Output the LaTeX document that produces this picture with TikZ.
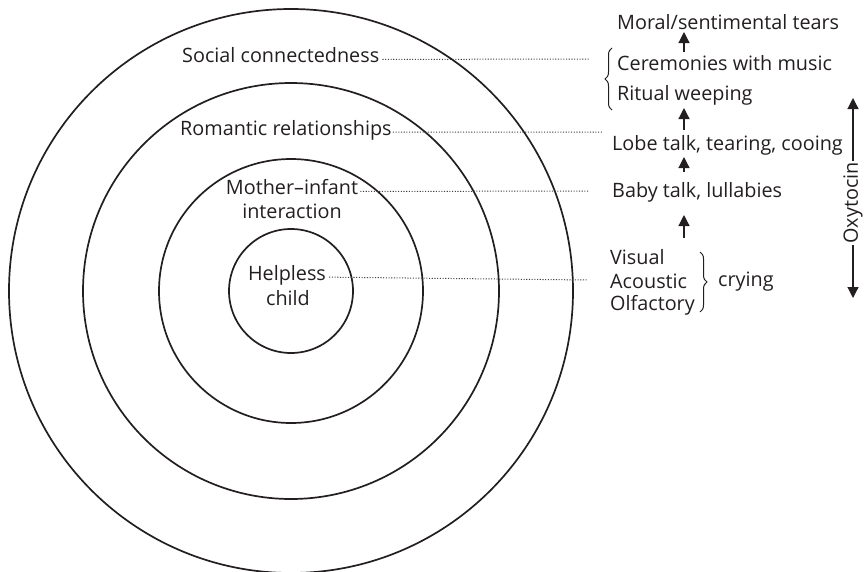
\documentclass[tikz,border=0pt]{standalone}
\usepackage{fontspec}
\setmainfont{Open Sans}
\usetikzlibrary{arrows.meta,decorations.pathreplacing,calc}
\definecolor{ink}{HTML}{231F20}
\begin{document}
\begin{tikzpicture}[x=1pt,y=-1pt,
  ring/.style={draw=ink,line width=1.7pt},
  lbl/.style={inner sep=0pt,text=ink,font=\fontsize{19.8}{24}\selectfont},
  leader/.style={draw=ink!85,line width=1pt,dash pattern=on 1.1pt off 1.6pt},
  uparrow/.style={draw=ink,line width=1.2pt,-{Triangle[length=11pt,width=11pt]}},
  bracket/.style={draw=ink,line width=1pt,decorate,decoration={brace,amplitude=7pt}}]
\useasboundingbox (0,0) rectangle (864,571);

% concentric circles
\coordinate (c) at (291,291);
\draw[ring] (c) circle[radius=282];
\draw[ring] (c) circle[radius=208];
\draw[ring] (c) circle[radius=132];
\draw[ring] (c) circle[radius=62];

% labels inside the circles
\node[lbl,anchor=west] (social) at (182,55) {Social connectedness};
\node[lbl,anchor=west] (romantic) at (180,130) {Romantic relationships};
\node[lbl] (mother) at (292,187) {Mother–infant};
\node[lbl] (interaction) at (292,211) {interaction};
\node[lbl] (helpless) at (287,275) {Helpless};
\node[lbl] (child) at (288,298) {child};

% right-hand column
\node[lbl,anchor=west] (moral) at (617,22) {Moral/sentimental tears};
\node[lbl,anchor=west] (cere) at (617,63) {Ceremonies with music};
\node[lbl,anchor=west] (ritual) at (617,95) {Ritual weeping};
\node[lbl,anchor=west] (lobe) at (612,145) {Lobe talk, tearing, cooing};
\node[lbl,anchor=west] (baby) at (612,192) {Baby talk, lullabies};
\node[lbl,anchor=west] (visual) at (610,257) {Visual};
\node[lbl,anchor=west] (acoustic) at (610,281) {Acoustic};
\node[lbl,anchor=west] (olfactory) at (610,305) {Olfactory};
\node[lbl,anchor=west] (crying) at (718,282) {crying};

% leader lines
\coordinate (e1) at (590,59);
\coordinate (e2) at (603,132);
\coordinate (e3) at (588,191);
\coordinate (e4) at (588,280);
\draw[leader] ($(social.base east)+(3,-3)$) -- (e1);
\draw[leader] ($(romantic.base east)+(1,-3)$) -- (e2);
\draw[leader] ($(mother.base east)+(2,-3)$) -- (e3);
\draw[leader] ($(helpless.base east)+(3,-3)$) -- (e4);

% braces
\coordinate (b1t) at (612,48);
\coordinate (b1b) at (612,110);
\draw[bracket] (b1b) -- (b1t);
\coordinate (b2t) at (700,252);
\coordinate (b2b) at (700,312);
\draw[bracket] (b2t) -- (b2b);

% upward arrows
\coordinate (ax) at (684,0);
\draw[uparrow] ($(cere.west -| ax)+(0,-11)$) -- ($(moral.west -| ax)+(0,10)$);
\draw[uparrow] ($(lobe.west -| ax)+(0,-15)$) -- ($(ritual.west -| ax)+(0,13)$);
\draw[uparrow] ($(baby.west -| ax)+(0,-20)$) -- ($(lobe.west -| ax)+(0,12)$);
\draw[uparrow] ($(visual.west -| ax)+(0,-19)$) -- ($(baby.west -| ax)+(0,23)$);

% oxytocin double arrow
\node[lbl,rotate=90,fill=white,inner sep=1.5pt] (oxy) at (853,203) {Oxytocin};
\coordinate (ot) at (853,98);
\coordinate (ob) at (853,298);
\draw[uparrow] (oxy.east) -- (ot);
\draw[uparrow] (oxy.west) -- (ob);
\end{tikzpicture}
\end{document}
